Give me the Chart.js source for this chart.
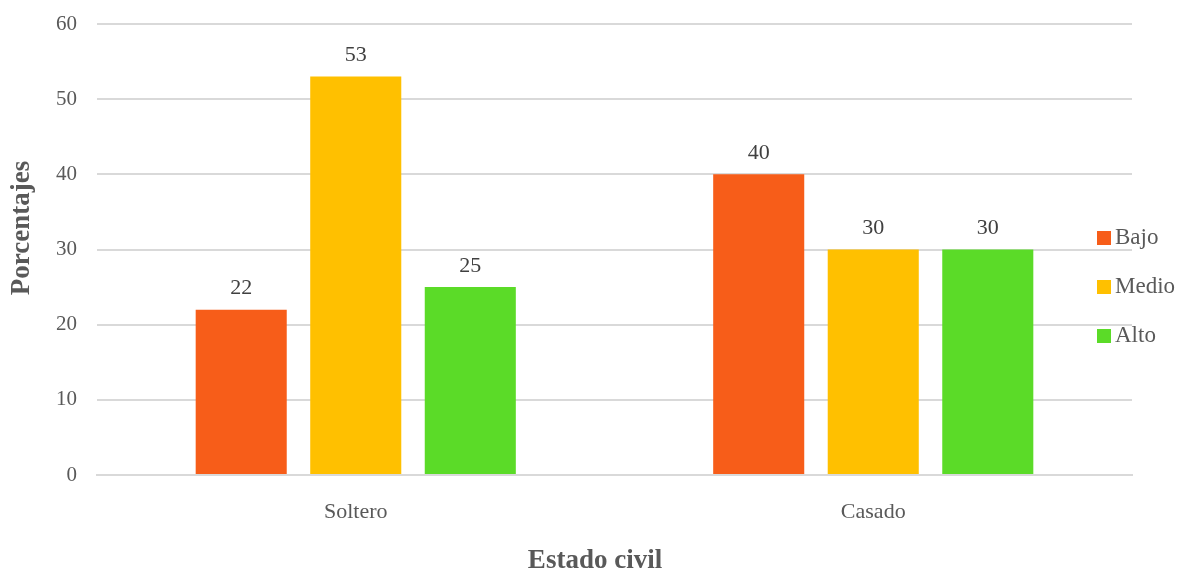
<!DOCTYPE html>
<html>
<head>
<meta charset="utf-8">
<script src="https://cdn.jsdelivr.net/npm/chart.js@4/dist/chart.umd.min.js"></script>
<style>
  html, body { margin: 0; padding: 0; background: #fff; }
  #wrap { width: 1178px; height: 572px; }
</style>
</head>
<body>
<div id="wrap"><canvas id="chart"></canvas></div>
<script>
const categories = ['Soltero', 'Casado'];
const seriesNames = ['Bajo', 'Medio', 'Alto'];
const bajo = [22, 40];
const medio = [53, 30];
const alto = [25, 30];
const colors = ['#F75D19', '#FFC000', '#5BDB28'];
const xTitle = 'Estado civil';
const yTitle = 'Porcentajes';

const fontFamily = '"Liberation Serif", "Times New Roman", serif';

// numbers over the bars
const valueLabels = {
    id: 'valueLabels',
    afterDatasetsDraw(chart) {
        const ctx = chart.ctx;
        ctx.save();
        ctx.font = '22px ' + fontFamily;
        ctx.fillStyle = '#404040';
        ctx.textAlign = 'center';
        ctx.textBaseline = 'bottom';
        chart.data.datasets.forEach((ds, i) => {
            chart.getDatasetMeta(i).data.forEach((bar, j) => {
                ctx.fillText(ds.data[j], bar.x, bar.y - 10);
            });
        });
        ctx.restore();
    }
};

// legend over the right edge of the plot, plus both axis titles
// (the titles sit off-centre in the original, so they are placed by hand)
const sideLegend = {
    id: 'sideLegend',
    afterDraw(chart) {
        const ctx = chart.ctx;
        ctx.save();
        ctx.font = '23px ' + fontFamily;
        ctx.textBaseline = 'middle';
        ctx.textAlign = 'left';
        chart.data.datasets.forEach((ds, i) => {
            const y = 238 + i * 49;
            ctx.fillStyle = ds.backgroundColor;
            ctx.fillRect(1097, y - 7, 14, 14);
            ctx.fillStyle = '#595959';
            ctx.fillText(ds.label, 1115, y);
        });

        ctx.textAlign = 'center';
        ctx.font = 'bold 27px ' + fontFamily;
        ctx.fillText(xTitle, 595, 561);

        ctx.translate(22, 228);
        ctx.rotate(-Math.PI / 2);
        ctx.fillText(yTitle, 0, 0);
        ctx.restore();
    }
};

new Chart(document.getElementById('chart'), {
    type: 'bar',
    data: {
        labels: categories,
        datasets: [
            { label: seriesNames[0], data: bajo, backgroundColor: colors[0] },
            { label: seriesNames[1], data: medio, backgroundColor: colors[1] },
            { label: seriesNames[2], data: alto, backgroundColor: colors[2] }
        ]
    },
    options: {
        responsive: true,
        maintainAspectRatio: false,
        animation: false,
        categoryPercentage: 0.664,
        barPercentage: 0.795,
        layout: { padding: { top: 24, right: 46, left: 0, bottom: 0 } },
        plugins: {
            legend: { display: false },
            tooltip: { enabled: false }
        },
        scales: {
            x: {
                grid: { display: false, drawTicks: false },
                border: { color: '#d9d9d9', width: 2 },
                ticks: { color: '#595959', font: { family: fontFamily, size: 22 }, padding: 24 },
                afterFit(scale) { scale.height = 572 - 475; }
            },
            y: {
                min: 0, max: 60,
                ticks: { stepSize: 10, color: '#595959', font: { family: fontFamily, size: 21 }, padding: 20 },
                grid: { color: '#d9d9d9', lineWidth: 2, drawTicks: false },
                border: { display: false },
                afterFit(scale) {
                    scale.width = 97;
                    scale.paddingTop = 0;
                    scale.paddingBottom = 0;
                }
            }
        }
    },
    plugins: [valueLabels, sideLegend]
});
</script>
</body>
</html>
